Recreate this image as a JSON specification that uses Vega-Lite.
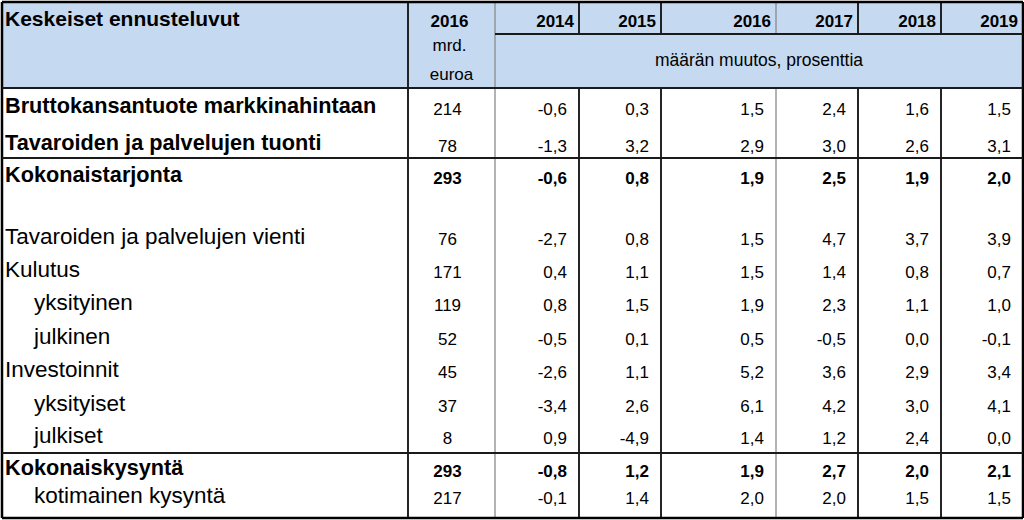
{
  "$schema": "https://vega.github.io/schema/vega-lite/v6.json",
  "autosize": {"type": "fit", "contains": "padding"},
  "width": 1024,
  "height": 520,
  "padding": 0,
  "background": "white",
  "config": {
    "view": {"stroke": null},
    "axis": {"disable": true},
    "locale": {"number": {"decimal": ",", "thousands": " ", "grouping": [3], "currency": ["", " €"], "minus": "-"}},
    "text": {"font": "Liberation Sans", "fontSize": 17, "color": "#000000", "baseline": "alphabetic"}
  },
  "datasets": {
    "items": [
      {"r": 4, "item": "Bruttokansantuote markkinahintaan", "kind": "main", "mrd": 214, "2014": -0.6, "2015": 0.3, "2016": 1.5, "2017": 2.4, "2018": 1.6, "2019": 1.5},
      {"r": 5, "item": "Tavaroiden ja palvelujen tuonti", "kind": "main", "mrd": 78, "2014": -1.3, "2015": 3.2, "2016": 2.9, "2017": 3.0, "2018": 2.6, "2019": 3.1},
      {"r": 6, "item": "Kokonaistarjonta", "kind": "total", "mrd": 293, "2014": -0.6, "2015": 0.8, "2016": 1.9, "2017": 2.5, "2018": 1.9, "2019": 2.0},
      {"r": 8, "item": "Tavaroiden ja palvelujen vienti", "kind": "group", "mrd": 76, "2014": -2.7, "2015": 0.8, "2016": 1.5, "2017": 4.7, "2018": 3.7, "2019": 3.9},
      {"r": 9, "item": "Kulutus", "kind": "group", "mrd": 171, "2014": 0.4, "2015": 1.1, "2016": 1.5, "2017": 1.4, "2018": 0.8, "2019": 0.7},
      {"r": 10, "item": "yksityinen", "kind": "sub", "mrd": 119, "2014": 0.8, "2015": 1.5, "2016": 1.9, "2017": 2.3, "2018": 1.1, "2019": 1.0},
      {"r": 11, "item": "julkinen", "kind": "sub", "mrd": 52, "2014": -0.5, "2015": 0.1, "2016": 0.5, "2017": -0.5, "2018": 0.0, "2019": -0.1},
      {"r": 12, "item": "Investoinnit", "kind": "group", "mrd": 45, "2014": -2.6, "2015": 1.1, "2016": 5.2, "2017": 3.6, "2018": 2.9, "2019": 3.4},
      {"r": 13, "item": "yksityiset", "kind": "sub", "mrd": 37, "2014": -3.4, "2015": 2.6, "2016": 6.1, "2017": 4.2, "2018": 3.0, "2019": 4.1},
      {"r": 14, "item": "julkiset", "kind": "sub", "mrd": 8, "2014": 0.9, "2015": -4.9, "2016": 1.4, "2017": 1.2, "2018": 2.4, "2019": 0.0},
      {"r": 15, "item": "Kokonaiskysyntä", "kind": "total", "mrd": 293, "2014": -0.8, "2015": 1.2, "2016": 1.9, "2017": 2.7, "2018": 2.0, "2019": 2.1},
      {"r": 16, "item": "kotimainen kysyntä", "kind": "sub", "mrd": 217, "2014": -0.1, "2015": 1.4, "2016": 2.0, "2017": 2.0, "2018": 1.5, "2019": 1.5}
    ],
    "years": [
      {"key": "2014", "year": 2014},
      {"key": "2015", "year": 2015},
      {"key": "2016", "year": 2016},
      {"key": "2017", "year": 2017},
      {"key": "2018", "year": 2018},
      {"key": "2019", "year": 2019}
    ],
    "vlines": [
      {"x": 2011, "y": 0, "y2": 16.5, "t": "outer"},
      {"x": 2019, "y": 0, "y2": 16.5, "t": "outer"},
      {"x": 2012, "y": 0, "y2": 16.5, "t": "inner"},
      {"x": 2013, "y": 0, "y2": 16.5, "t": "soft"},
      {"x": 2014, "y": 0, "y2": 1.5, "t": "inner"},
      {"x": 2014, "y": 3.5, "y2": 16.5, "t": "inner"},
      {"x": 2015, "y": 0, "y2": 1.5, "t": "inner"},
      {"x": 2015, "y": 3.5, "y2": 16.5, "t": "inner"},
      {"x": 2016, "y": 0, "y2": 1.5, "t": "soft"},
      {"x": 2016, "y": 3.5, "y2": 16.5, "t": "soft"},
      {"x": 2017, "y": 0, "y2": 1.5, "t": "inner"},
      {"x": 2017, "y": 3.5, "y2": 16.5, "t": "inner"},
      {"x": 2018, "y": 0, "y2": 1.5, "t": "inner"},
      {"x": 2018, "y": 3.5, "y2": 16.5, "t": "inner"}
    ],
    "hlines": [
      {"y": 0, "x": 2011, "x2": 2019, "t": "outer"},
      {"y": 1.5, "x": 2013, "x2": 2019, "t": "inner"},
      {"y": 3.5, "x": 2011, "x2": 2019, "t": "inner"},
      {"y": 5.5, "x": 2011, "x2": 2019, "t": "inner"},
      {"y": 14.5, "x": 2011, "x2": 2019, "t": "inner"},
      {"y": 16.5, "x": 2011, "x2": 2019, "t": "outer"}
    ]
  },
  "resolve": {"scale": {"x": "shared", "y": "shared"}},
  "encoding": {},
  "layer": [
    {
      "data": {"values": [{}]},
      "mark": {"type": "rect", "color": "#C5D9F1"},
      "encoding": {
        "x": {"datum": 2011, "type": "quantitative", "scale": {"domain": [2011, 2012, 2013, 2014, 2015, 2016, 2017, 2018, 2019], "range": [1, 407, 494, 578, 660, 775, 857, 940, 1022], "nice": false, "zero": false}},
        "x2": {"datum": 2019},
        "y": {"datum": 0, "type": "quantitative", "scale": {"domain": [0, 1, 1.5, 2, 3, 3.5, 4, 5, 5.5, 6, 7, 8, 9, 10, 11, 12, 13, 14, 14.5, 15, 16, 16.5], "range": [1, 26, 33, 50, 79, 87, 114, 151, 157, 183, 213, 244, 277, 310, 344, 377, 411, 443, 452, 476, 503, 517], "nice": false, "zero": false}},
        "y2": {"datum": 3.5}
      }
    },
    {
      "data": {"values": [{}]},
      "mark": {"type": "text", "font": "Liberation Sans", "fontSize": 21, "fontWeight": "bold", "align": "left", "dx": 3, "dy": -1},
      "encoding": {
        "x": {"datum": 2011, "type": "quantitative"},
        "y": {"datum": 1, "type": "quantitative"},
        "text": {"value": "Keskeiset ennusteluvut"}
      }
    },
    {
      "data": {"values": [{}]},
      "mark": {"type": "text", "fontWeight": "bold", "align": "center", "dx": -2},
      "encoding": {
        "x": {"datum": 2012.5, "type": "quantitative"},
        "y": {"datum": 1, "type": "quantitative"},
        "text": {"value": "2016"}
      }
    },
    {
      "data": {"values": [{}]},
      "mark": {"type": "text", "align": "center", "dx": -2},
      "encoding": {
        "x": {"datum": 2012.5, "type": "quantitative"},
        "y": {"datum": 2, "type": "quantitative"},
        "text": {"value": "mrd."}
      }
    },
    {
      "data": {"values": [{}]},
      "mark": {"type": "text", "align": "center", "dx": 0},
      "encoding": {
        "x": {"datum": 2012.5, "type": "quantitative"},
        "y": {"datum": 3, "type": "quantitative"},
        "text": {"value": "euroa"}
      }
    },
    {
      "data": {"values": [{}]},
      "mark": {"type": "text", "align": "center", "dx": -17, "fontSize": 17.5},
      "encoding": {
        "x": {"datum": 2016, "type": "quantitative"},
        "y": {"datum": 2.5, "type": "quantitative"},
        "text": {"value": "määrän muutos, prosenttia"}
      }
    },
    {
      "data": {"name": "years"},
      "mark": {"type": "text", "fontWeight": "bold", "align": "right", "dx": -5},
      "encoding": {
        "x": {"field": "year", "type": "quantitative"},
        "y": {"datum": 1, "type": "quantitative"},
        "text": {"field": "key"}
      }
    },
    {
      "data": {"name": "items"},
      "transform": [{"filter": "datum.kind === 'main' || datum.kind === 'total'"}],
      "mark": {"type": "text", "fontSize": 21.7, "fontWeight": "bold", "align": "left", "dx": 3, "dy": -2},
      "encoding": {
        "x": {"datum": 2011, "type": "quantitative"},
        "y": {"field": "r", "type": "quantitative"},
        "text": {"field": "item"}
      }
    },
    {
      "data": {"name": "items"},
      "transform": [{"filter": "datum.kind === 'group'"}],
      "mark": {"type": "text", "fontSize": 22.5, "align": "left", "dx": 3, "dy": -1},
      "encoding": {
        "x": {"datum": 2011, "type": "quantitative"},
        "y": {"field": "r", "type": "quantitative"},
        "text": {"field": "item"}
      }
    },
    {
      "data": {"name": "items"},
      "transform": [{"filter": "datum.kind === 'sub'"}],
      "mark": {"type": "text", "fontSize": 22.5, "align": "left", "dx": 32, "dy": -1},
      "encoding": {
        "x": {"datum": 2011, "type": "quantitative"},
        "y": {"field": "r", "type": "quantitative"},
        "text": {"field": "item"}
      }
    },
    {
      "data": {"name": "items"},
      "transform": [{"filter": "datum.kind !== 'total'"}],
      "mark": {"type": "text", "align": "center", "dx": -4},
      "encoding": {
        "x": {"datum": 2012.5, "type": "quantitative"},
        "y": {"field": "r", "type": "quantitative"},
        "text": {"field": "mrd", "type": "quantitative", "format": "d"}
      }
    },
    {
      "data": {"name": "items"},
      "transform": [{"filter": "datum.kind === 'total'"}],
      "mark": {"type": "text", "fontWeight": "bold", "align": "center", "dx": -4},
      "encoding": {
        "x": {"datum": 2012.5, "type": "quantitative"},
        "y": {"field": "r", "type": "quantitative"},
        "text": {"field": "mrd", "type": "quantitative", "format": "d"}
      }
    },
    {
      "data": {"name": "items"},
      "transform": [
        {"filter": "datum.kind !== 'total'"},
        {"fold": ["2014", "2015", "2016", "2017", "2018", "2019"], "as": ["key", "v"]},
        {"lookup": "key", "from": {"data": {"name": "years"}, "key": "key", "fields": ["year"]}}
      ],
      "mark": {"type": "text", "align": "right", "dx": -12},
      "encoding": {
        "x": {"field": "year", "type": "quantitative"},
        "y": {"field": "r", "type": "quantitative"},
        "text": {"field": "v", "type": "quantitative", "format": ".1f"}
      }
    },
    {
      "data": {"name": "items"},
      "transform": [
        {"filter": "datum.kind === 'total'"},
        {"fold": ["2014", "2015", "2016", "2017", "2018", "2019"], "as": ["key", "v"]},
        {"lookup": "key", "from": {"data": {"name": "years"}, "key": "key", "fields": ["year"]}}
      ],
      "mark": {"type": "text", "fontWeight": "bold", "align": "right", "dx": -12},
      "encoding": {
        "x": {"field": "year", "type": "quantitative"},
        "y": {"field": "r", "type": "quantitative"},
        "text": {"field": "v", "type": "quantitative", "format": ".1f"}
      }
    },
    {
      "data": {"name": "vlines"},
      "mark": {"type": "rule"},
      "encoding": {
        "x": {"field": "x", "type": "quantitative"},
        "y": {"field": "y", "type": "quantitative"},
        "y2": {"field": "y2"},
        "color": {"field": "t", "type": "nominal", "legend": null, "scale": {"domain": ["outer", "inner", "soft"], "range": ["#000000", "#1a1a1a", "#8a8a8a"]}},
        "strokeWidth": {"field": "t", "type": "ordinal", "legend": null, "scale": {"domain": ["outer", "inner", "soft"], "range": [2.5, 1.3, 1.5]}}
      }
    },
    {
      "data": {"name": "hlines"},
      "mark": {"type": "rule"},
      "encoding": {
        "y": {"field": "y", "type": "quantitative"},
        "x": {"field": "x", "type": "quantitative"},
        "x2": {"field": "x2"},
        "color": {"field": "t", "type": "nominal", "legend": null},
        "strokeWidth": {"field": "t", "type": "ordinal", "legend": null}
      }
    }
  ]
}
